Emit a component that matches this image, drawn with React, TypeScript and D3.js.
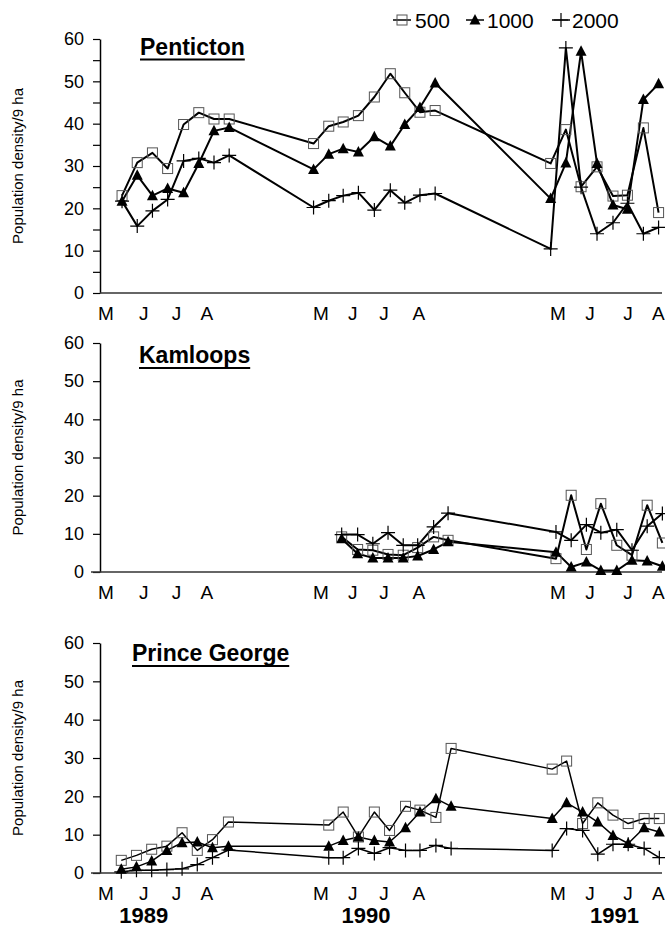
import React, { useEffect, useRef } from 'react';
import * as d3 from 'd3';

// sampling dates in weeks from early May 1989; winters are shortened like on the original axis
const pentictonDates = [0.9, 2.9, 4.9, 6.9, 9.0, 11.0, 13.0, 15.0,
  26.1, 28.1, 30.0, 32.0, 34.1, 36.2, 38.1, 40.1, 42.1,
  57.3, 59.3, 61.3, 63.4, 65.5, 67.4, 69.5, 71.5];
const penticton500 = [23.0, 30.8, 33.1, 29.4, 39.8, 42.6, 41.1, 41.1,
  35.3, 39.4, 40.4, 41.9, 46.3, 51.8, 47.3, 42.7, 43.1,
  30.6, 38.6, 25.1, 29.8, 22.9, 23.1, 39.0, 19.0];
const penticton1000 = [21.7, 27.8, 23.0, 24.7, 23.7, 30.6, 38.3, 39.1,
  29.2, 32.8, 34.1, 33.3, 36.9, 34.7, 39.8, 43.8, 49.6,
  22.3, 30.7, 57.1, 30.6, 20.8, 19.8, 45.7, 49.4];
const penticton2000 = [21.7, 15.8, 19.4, 22.1, 31.2, 31.8, 30.8, 32.5,
  20.2, 21.8, 23.0, 23.7, 19.6, 24.3, 21.3, 23.1, 23.5,
  10.4, 57.9, 25.0, 14.0, 16.6, 21.2, 14.0, 15.5];

const kamloopsDates = [29.8, 31.9, 33.9, 35.9, 37.9, 39.8, 41.9, 43.8,
  58.0, 60.0, 62.0, 63.9, 66.0, 68.0, 70.0, 72.0];
const kamloops500 = [9.2, 5.9, 5.7, 4.6, 4.4, 6.4, 9.2, 8.3,
  3.5, 20.1, 5.9, 17.9, 7.0, 4.4, 17.5, 7.6];
const kamloops1000 = [8.7, 4.8, 3.7, 3.7, 3.7, 4.2, 5.9, 7.9,
  5.2, 1.3, 2.6, 0.4, 0.4, 3.1, 2.9, 1.5];
const kamloops2000 = [9.8, 9.8, 7.4, 10.3, 7.0, 7.0, 11.8, 15.4,
  10.5, 8.3, 12.4, 10.3, 11.1, 5.7, 12.0, 15.3];

const princeGeorgeDates = [0.8, 2.8, 4.8, 6.8, 8.8, 10.8, 12.8, 14.9,
  28.1, 30.0, 32.0, 34.1, 36.1, 38.2, 40.1, 42.2, 44.2,
  57.5, 59.4, 61.5, 63.5, 65.5, 67.5, 69.6, 71.6];
const princeGeorge500 = [3.3, 4.6, 6.2, 7.0, 10.5, 5.9, 8.7, 13.3,
  12.5, 15.9, 9.4, 15.9, 11.1, 17.4, 16.4, 14.5, 32.5,
  27.1, 29.2, 12.9, 18.3, 15.1, 12.9, 14.2, 14.2];
const princeGeorge1000 = [1.0, 1.6, 3.1, 5.9, 7.9, 8.1, 6.6, 7.0,
  7.0, 8.5, 9.4, 8.5, 8.1, 11.8, 15.9, 19.4, 17.4,
  14.2, 18.3, 15.9, 13.3, 9.8, 7.7, 11.8, 10.7];
const princeGeorge2000 = [0.3, 0.7, 0.7, 0.9, 1.1, 2.2, 4.0, 6.0,
  4.0, 4.0, 6.4, 5.1, 6.6, 5.9, 5.9, 7.2, 6.4,
  5.9, 11.6, 11.1, 4.9, 7.5, 7.5, 6.4, 4.0];

const seriesNames = ['500', '1000', '2000'];
const monthLabels = ['M', 'J', 'J', 'A', 'M', 'J', 'J', 'A', 'M', 'J', 'J', 'A'];
const monthWeeks = [-1.3, 3.7, 8.0, 12.0, 27.0, 31.2, 35.3, 39.9, 58.2, 62.4, 67.4, 71.4];
const yearLabels = ['1989', '1990', '1991'];
const yearWeeks = [3.75, 33.0, 65.7];

const FONT = '"Liberation Sans", Arial, Helvetica, sans-serif';
const markerKinds = ['square', 'triangle', 'cross'];

const panels = [
  { title: 'Penticton', dates: pentictonDates, values: [penticton500, penticton1000, penticton2000],
    top: 39, bottom: 293, tickStep: 5, titleX: 140, titleY: 54.5, axisStart: 100, lineWidth: 2 },
  { title: 'Kamloops', dates: kamloopsDates, values: [kamloops500, kamloops1000, kamloops2000],
    top: 343, bottom: 572, tickStep: 10, titleX: 139, titleY: 363, axisStart: 91, lineWidth: 2 },
  { title: 'Prince George', dates: princeGeorgeDates, values: [princeGeorge500, princeGeorge1000, princeGeorge2000],
    top: 643, bottom: 873, tickStep: 10, titleX: 132, titleY: 661, axisStart: 91, lineWidth: 1.5 },
];

const legendItems = [
  { cx: 402, textX: 415 },
  { cx: 475, textX: 487 },
  { cx: 561, textX: 572 },
];

function drawMarker(g: any, kind: string, cx: number, cy: number) {
  if (kind === 'square') {
    g.append('rect')
      .attr('x', cx - 5).attr('y', cy - 5)
      .attr('width', 10).attr('height', 10)
      .attr('fill', 'none').attr('stroke', '#555').attr('stroke-width', 1);
  } else if (kind === 'triangle') {
    g.append('path')
      .attr('d', `M${cx},${cy - 6}L${cx + 5.5},${cy + 4.5}L${cx - 5.5},${cy + 4.5}Z`)
      .attr('fill', '#000');
  } else {
    g.append('path')
      .attr('d', `M${cx - 7},${cy}H${cx + 7}M${cx},${cy - 7}V${cy + 7}`)
      .attr('stroke', '#000').attr('stroke-width', 1.2).attr('fill', 'none');
  }
}

const App = () => {
  const svgRef = useRef<SVGSVGElement>(null);

  useEffect(() => {
    const svg = d3.select(svgRef.current);
    svg.selectAll('*').remove();

    const x = d3.scaleLinear().domain([-2.0, 72.2]).range([100, 663.9]);

    // legend
    const lg = svg.append('g');
    legendItems.forEach((item, i) => {
      lg.append('line')
        .attr('x1', item.cx - 9).attr('x2', item.cx + 9)
        .attr('y1', 20).attr('y2', 20)
        .attr('stroke', '#000').attr('stroke-width', 1.5);
      drawMarker(lg, markerKinds[i], item.cx, 20);
      lg.append('text')
        .attr('x', item.textX).attr('y', 27.5)
        .attr('font-family', FONT).attr('font-size', 21)
        .text(seriesNames[i]);
    });

    panels.forEach(p => {
      const y = d3.scaleLinear().domain([0, 60]).range([p.bottom, p.top]);
      const g = svg.append('g');

      const yAxis = d3.axisLeft(y)
        .tickValues(d3.range(0, 61, p.tickStep))
        .tickSize(7).tickSizeOuter(0).tickPadding(9)
        .tickFormat((d: any) => (d % 10 === 0 ? String(d) : ''));
      const ya = g.append('g').attr('transform', 'translate(100,0)').call(yAxis);
      ya.select('.domain').attr('stroke-width', 1.5);
      ya.selectAll('line').attr('stroke-width', 1.2);
      ya.selectAll('text')
        .attr('font-family', FONT).attr('font-size', 18).attr('fill', '#000');

      g.append('line')
        .attr('x1', p.axisStart).attr('x2', 662)
        .attr('y1', p.bottom).attr('y2', p.bottom)
        .attr('stroke', '#333').attr('stroke-width', 1.5);

      const xAxis = d3.axisBottom(x)
        .tickValues(monthWeeks)
        .tickSize(0).tickPadding(14)
        .tickFormat((d: any, i: number) => monthLabels[i]);
      const xa = g.append('g').attr('transform', `translate(0,${p.bottom})`).call(xAxis);
      xa.select('.domain').remove();
      xa.selectAll('text')
        .attr('font-family', FONT).attr('font-size', 19).attr('fill', '#000');

      // title, underlined
      const title = g.append('text')
        .attr('x', p.titleX).attr('y', p.titleY)
        .attr('font-family', FONT).attr('font-size', 23).attr('font-weight', 'bold')
        .text(p.title);
      const tw = (title.node() as SVGTextElement).getComputedTextLength();
      g.append('rect')
        .attr('x', p.titleX).attr('y', p.titleY + 4)
        .attr('width', tw).attr('height', 2).attr('fill', '#000');

      g.append('text')
        .attr('transform', `translate(23,${(p.top + p.bottom) / 2}) rotate(-90)`)
        .attr('text-anchor', 'middle')
        .attr('font-family', FONT).attr('font-size', 15)
        .text('Population density/9 ha');

      const line = d3.line<number>()
        .x((d, i) => x(p.dates[i]))
        .y(d => y(d));

      p.values.forEach(vals => {
        g.append('path')
          .attr('d', line(vals))
          .attr('fill', 'none').attr('stroke', '#000')
          .attr('stroke-width', p.lineWidth).attr('stroke-linejoin', 'round');
      });

      p.values.forEach((vals, s) => {
        vals.forEach((v, i) => drawMarker(g, markerKinds[s], x(p.dates[i]), y(v)));
      });
    });

    const yrs = svg.append('g');
    yearLabels.forEach((label, i) => {
      yrs.append('text')
        .attr('x', x(yearWeeks[i])).attr('y', 923)
        .attr('text-anchor', 'middle')
        .attr('font-family', FONT).attr('font-size', 22).attr('font-weight', 'bold')
        .text(label);
    });
  }, []);

  return (
    <svg ref={svgRef} width={665} height={929}
      style={{ position: 'absolute', left: 0, top: 0, background: '#fff' }} />
  );
};

export default App;
